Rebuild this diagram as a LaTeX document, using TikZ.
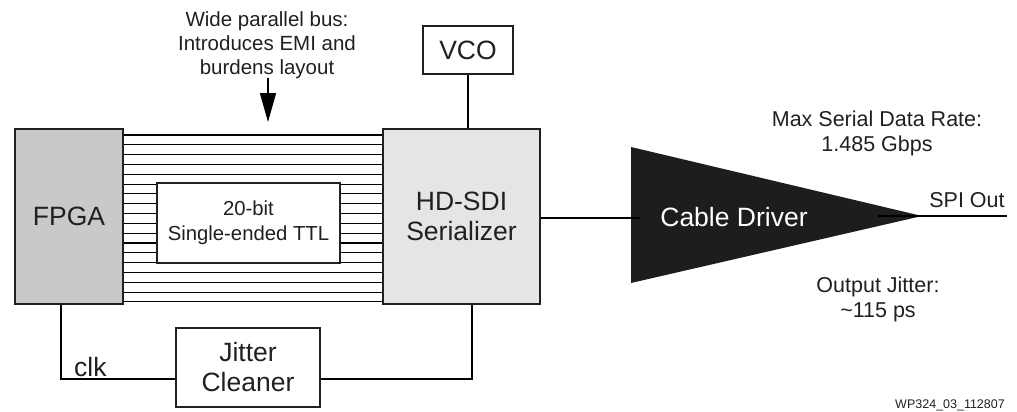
\documentclass[tikz,border=0pt]{standalone}
\usepackage{fontspec}
\setmainfont{Liberation Sans}
\usetikzlibrary{arrows.meta}
\definecolor{fpgagray}{HTML}{C8C9CB}
\definecolor{sergray}{HTML}{E4E5E7}
\definecolor{drvblack}{HTML}{1E1C1C}
\definecolor{txt}{HTML}{231F20}
\tikzset{
  blk/.style={draw=txt, line width=1.3pt, inner sep=0pt, text=txt, align=center},
  big/.style={font=\fontsize{26.5}{30}\selectfont},
  mid/.style={font=\fontsize{21.5}{25}\selectfont},
  ttlfont/.style={font=\fontsize{20.3}{25}\selectfont},
  small/.style={font=\fontsize{20.5}{24}\selectfont},
  wire/.style={draw=black, line width=1.6pt},
  busline/.style={draw=black, line width=1.1pt},
  lbl/.style={text=txt, align=center, inner sep=0pt}
}
\begin{document}
\begin{tikzpicture}[x=1pt, y=-1pt]
\useasboundingbox (0,0) rectangle (1017,412);
% bus lines
\foreach \i in {0,...,17} {
  \draw[busline] (123,{135+\i*9.82}) -- (383,{135+\i*9.82});
}
% FPGA
\node[blk, fill=fpgagray, minimum width=108pt, minimum height=175pt, big] (fpga) at (69,216.5) {FPGA};
% Serializer
\node[blk, fill=sergray, minimum width=157pt, minimum height=175pt, big] (ser) at (461.5,216.5) {HD-SDI\\Serializer};
% inner TTL box
\node[blk, fill=white, minimum width=183pt, minimum height=80pt, ttlfont] (ttl) at (248.5,223) {20-bit\\Single-ended TTL};
% VCO
\node[blk, fill=white, minimum width=90pt, minimum height=48pt, big] (vco) at (468,50) {VCO};
\draw[wire] (vco.south) -- (vco.south |- ser.north);
% Cable driver triangle
\coordinate (drvT) at (631,147);
\coordinate (drvB) at (631,283);
\coordinate (drvTip) at (922,216);
\fill[drvblack] (drvT) -- (drvTip) -- (drvB) -- cycle;
\node[lbl, text=white, big] (drvtxt) at (734,217) {Cable Driver};
\coordinate (drvIn) at (640,218);
\draw[wire] (ser.east |- drvIn) -- (drvIn);
\coordinate (spiEnd) at (1007,216);
\coordinate (spiStart) at (878,216);
\draw[wire] (spiStart) -- (spiEnd);
\node[lbl, mid] (spi) at (967,200) {SPI Out};
\node[lbl, mid] (rate) at (877,133) {Max Serial Data Rate:\\1.485 Gbps};
\node[lbl, mid] (jit) at (878,299) {Output Jitter:\\\textasciitilde115 ps};
% bus annotation
\node[lbl, small] (bus) at (267,45) {Wide parallel bus:\\Introduces EMI and\\burdens layout};
\coordinate (busTip) at (268,122);
\draw[line width=1.6pt, -{Triangle[length=29pt, width=16pt]}] (268,78) -- (busTip);
% Jitter cleaner
\node[blk, fill=white, minimum width=144pt, minimum height=79pt, big] (jc) at (248,367.5) {Jitter\\Cleaner};
\coordinate (clkCorner) at (61,379);
\coordinate (serCorner) at (472,379);
\draw[wire] (fpga.south -| clkCorner) -- (clkCorner) -- (jc.west |- clkCorner);
\draw[wire] (jc.east |- serCorner) -- (serCorner) -- (ser.south -| serCorner);
\node[lbl, big, anchor=base west] (clk) at (74,376) {clk};
% figure id
\node[lbl, font=\fontsize{12.5}{14}\selectfont, anchor=base] (fig) at (950,408) {WP324\_03\_112807};
\end{tikzpicture}
\end{document}
